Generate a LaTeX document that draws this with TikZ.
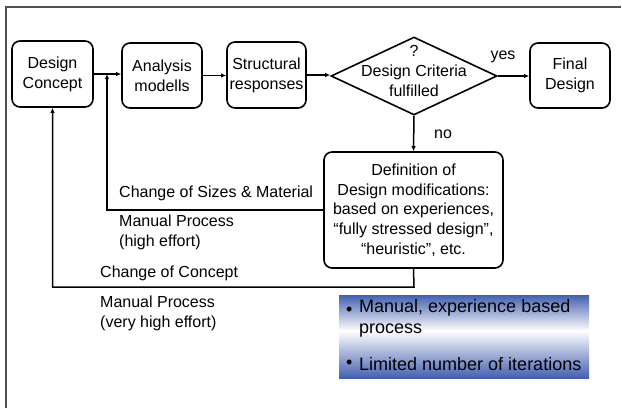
\documentclass[tikz,border=0pt]{standalone}
\usepackage{fontspec}
\setmainfont{Liberation Sans}
\usetikzlibrary{shapes.geometric,arrows.meta}
\definecolor{gblue}{RGB}{68,96,176}
\definecolor{framegray}{RGB}{80,80,80}
\begin{document}
\begin{tikzpicture}[x=1pt,y=-1pt,
 box/.style={draw, line width=1.6pt, rounded corners=8pt, align=center, inner sep=0pt, font=\fontsize{16}{20}\selectfont},
 conn/.style={line width=1.5pt},
 arr/.style={conn, -{Latex[length=5pt,width=4.5pt]}},
 lbl/.style={anchor=west, inner sep=0pt, align=left, font=\fontsize{16}{20}\selectfont},
 bul/.style={anchor=west, inner sep=0pt, font=\fontsize{18}{22}\selectfont}]
\useasboundingbox (0,0) rectangle (622,408);
\fill[white] (0,0) rectangle (622,408);
% frame
\draw[framegray, line width=1.4pt] (6,408) -- (6,7) -- (621,7);

% nodes
\node[box, minimum width=81pt, minimum height=66pt] (dc) at (52.5,74) {Design\\Concept};
\node[box, minimum width=80pt, minimum height=65pt] (am) at (162,75.5) {Analysis\\modells};
\node[box, minimum width=79pt, minimum height=66pt] (sr) at (266.5,75) {Structural\\responses};
\node[box, minimum width=80pt, minimum height=65pt] (fd) at (570,75.5) {Final\\Design};
\node[draw, diamond, line width=1.6pt, minimum width=166pt, minimum height=78pt, inner sep=0pt] (dia) at (414,76) {};
\node[align=center, inner sep=0pt, font=\fontsize{16}{20}\selectfont] (diat) at (414,71) {?\\Design Criteria\\fulfilled};
\node[box, minimum width=179pt, minimum height=116pt, font=\fontsize{16}{19.7}\selectfont] (def) at (413.5,210)
 {Definition of\\Design modifications:\\based on experiences,\\“fully stressed design”,\\“heuristic”, etc.};

% connectors
\draw[arr] (dc.east) -- (dc.east -| am.west);
\draw[arr] (am.east) -- (am.east -| sr.west);
\draw[arr] (sr.east) -- (sr.east -| dia.west);
\draw[arr] (dia.east) -- (dia.east -| fd.west);
\draw[arr] (dia.south) -- (def.north);
\coordinate (j1) at (107,74);
\draw[arr] (def.west) -| (j1);
\coordinate (c1) at (414,287);
\draw[arr] (def.south) -- (c1) -| (dc.south);

% labels
\node[inner sep=0pt, font=\fontsize{16}{20}\selectfont] (yes) at (503,57) {yes};
\node[inner sep=0pt, font=\fontsize{16}{20}\selectfont] (no) at (443,134) {no};
\node[lbl] (l1) at (119,193) {Change of Sizes \& Material};
\node[lbl] (l2) at (119,232) {Manual Process\\(high effort)};
\node[lbl] (l3) at (100,273) {Change of Concept};
\node[lbl] (l4) at (100,313) {Manual Process\\(very high effort)};

% gradient box
\shade[top color=gblue, bottom color=white] (339,295) rectangle (589,331);
\shade[top color=white, bottom color=gblue] (339,330.5) rectangle (589,378);
\node[bul] (b1) at (346,311) {•};
\node[bul, anchor=north west, align=left, font=\fontsize{18}{21}\selectfont] (t1) at (359,299) {Manual, experience based\\process};
\node[bul] (b2) at (346,364) {•};
\node[bul] (t2) at (359,364) {Limited number of iterations};
\end{tikzpicture}
\end{document}
